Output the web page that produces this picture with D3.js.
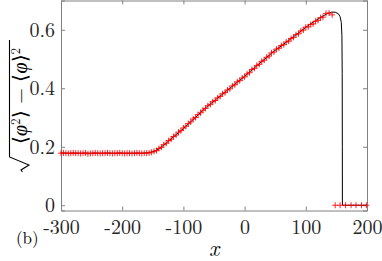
<!DOCTYPE html>
<html>
<head>
<meta charset="utf-8">
<script src="https://cdn.jsdelivr.net/npm/d3@7"></script>
<style>
  body { margin: 0; background: #fff; }
  svg { display: block; }
</style>
</head>
<body>
<svg id="chart" width="382" height="261"></svg>
<script>
(function (d3) {
    'use strict';

    // theory curve (black)
    var curveX = [-300, -170, -160, -152, -145, -140, -130, -116, -100, -62, -30, -7.5, 0, 47, 75, 101,
                  120, 134, 142, 148, 153, 156, 158, 159, 159.5, 159.7, 159.8, 200];
    var curveY = [0.178, 0.178, 0.179, 0.182, 0.187, 0.193, 0.209, 0.234, 0.262, 0.336, 0.390, 0.428, 0.441,
                  0.525, 0.568, 0.610, 0.637, 0.654, 0.660, 0.660, 0.655, 0.645, 0.625, 0.580, 0.450, 0.200, 0, 0];

    // simulation (red +)
    var simX = [-300, -296, -292, -288, -284, -280, -276, -272, -268, -264, -260, -256, -252, -248, -244,
                -240, -236, -232, -228, -224, -220, -216, -212, -208, -204, -200, -196, -192, -188, -184,
                -180, -176, -172, -168, -164, -160, -156, -152,
                -148, -144, -140, -136, -132, -128, -124, -120, -116, -112, -108, -104, -100, -96, -92, -88,
                -84, -80, -76, -72, -68, -64, -60, -56, -52, -48, -44, -40, -36, -32, -28, -24, -20, -16,
                -12, -8, -4, 0, 4, 8, 12, 16, 20, 24, 28, 32, 36, 40, 44, 48, 52, 56, 60, 64, 68, 72, 76,
                80, 84, 88, 92, 96, 100, 104, 108, 112, 116, 120, 124, 128, 133, 138, 143,
                148, 156, 165, 174, 182, 191, 199];
    var simY = [0.178, 0.179, 0.178, 0.177, 0.178, 0.179, 0.178, 0.178, 0.177, 0.178, 0.179, 0.176, 0.177, 0.178, 0.179,
                0.178, 0.177, 0.178, 0.178, 0.179, 0.178, 0.177, 0.178, 0.178, 0.179, 0.178, 0.177, 0.178, 0.178, 0.177,
                0.178, 0.179, 0.178, 0.177, 0.178, 0.178, 0.179, 0.181,
                0.184, 0.187, 0.194, 0.198, 0.207, 0.212, 0.221, 0.226, 0.235, 0.240, 0.250, 0.255, 0.264, 0.270, 0.279, 0.285,
                0.295, 0.300, 0.310, 0.316, 0.325, 0.331, 0.340, 0.345, 0.354, 0.358, 0.367, 0.372, 0.381, 0.385, 0.394, 0.398,
                0.408, 0.412, 0.422, 0.426, 0.435, 0.439, 0.449, 0.453, 0.464, 0.468, 0.478, 0.482, 0.492, 0.496, 0.506, 0.510,
                0.521, 0.524, 0.534, 0.537, 0.546, 0.549, 0.558, 0.561, 0.570, 0.574, 0.583, 0.586, 0.596, 0.599, 0.609, 0.610,
                0.618, 0.620, 0.629, 0.632, 0.641, 0.643, 0.656, 0.657, 0.651,
                0, 0, 0, 0, 0, 0, 0];

    var xTicks = [-300, -200, -100, 0, 100, 200];
    var yTicks = [0, 0.2, 0.4, 0.6];

    var serif = "'Latin Modern Roman', 'Liberation Serif', serif";
    var svg = d3.select('#chart');
    var left = 61, right = 367, top = 0.5, bottom = 210.5;

    var x = d3.scaleLinear().domain([-300, 200]).range([left, right]);
    var y = d3.scaleLinear().domain([-0.018, 0.7]).range([bottom, top]);

    // box + inward ticks on all four sides
    var axes = [
        svg.append('g').attr('transform', 'translate(0,' + bottom + ')')
            .call(d3.axisBottom(x).tickValues(xTicks).tickSize(-4).tickPadding(9).tickFormat(String)),
        svg.append('g').attr('transform', 'translate(0,' + top + ')')
            .call(d3.axisTop(x).tickValues(xTicks).tickSize(-4).tickFormat('')),
        svg.append('g').attr('transform', 'translate(' + left + ',0)')
            .call(d3.axisLeft(y).tickValues(yTicks).tickSize(-4).tickPadding(6).tickFormat(String)),
        svg.append('g').attr('transform', 'translate(' + right + ',0)')
            .call(d3.axisRight(y).tickValues(yTicks).tickSize(-4).tickFormat(''))
    ];
    axes.forEach(function (g) {
        g.selectAll('path, line').attr('stroke', '#808080');
        g.selectAll('text')
            .style('font-family', serif)
            .style('font-size', '20px')
            .attr('fill', '#262626');
    });

    var line = d3.line()
        .x(function (d) { return x(d[0]); })
        .y(function (d) { return y(d[1]); });

    svg.append('path')
        .datum(d3.zip(curveX, curveY))
        .attr('d', line)
        .attr('fill', 'none')
        .attr('stroke', '#000')
        .attr('stroke-width', 1);

    var s = 3;
    svg.append('g').selectAll('path')
        .data(d3.zip(simX, simY))
        .enter().append('path')
        .attr('d', function (d) {
            var px = x(d[0]), py = y(d[1]);
            return 'M' + (px - s) + ',' + py + 'H' + (px + s) + 'M' + px + ',' + (py - s) + 'V' + (py + s);
        })
        .attr('fill', 'none')
        .attr('stroke', '#ff0000')
        .attr('stroke-width', 1)
        .attr('stroke-opacity', 0.85);

    // labels
    svg.append('text')
        .attr('x', (left + right) / 2).attr('y', 256)
        .attr('text-anchor', 'middle')
        .style('font-family', serif)
        .style('font-style', 'italic')
        .style('font-size', '22px')
        .text('x');

    svg.append('text')
        .attr('x', 16).attr('y', 244)
        .style('font-family', serif)
        .style('font-size', '17px')
        .text('(b)');

    // y label: sqrt(<phi^2> - <phi>^2), rotated
    var yl = svg.append('g').attr('transform', 'translate(0,104) rotate(-90)');
    yl.append('path')
        .attr('d', 'M-68,22.5 L-66,21 L-61,29 L-53,9.5 L64,9.5')
        .attr('fill', 'none')
        .attr('stroke', '#000')
        .attr('stroke-width', 1.1);
    var t = yl.append('text')
        .attr('x', 8).attr('y', 27)
        .attr('text-anchor', 'middle')
        .style('font-family', serif)
        .style('font-size', '20px');
    t.append('tspan').text('\u27E8');
    t.append('tspan').style('font-style', 'italic').text('\u03C6');
    t.append('tspan').attr('dy', -7).style('font-size', '13px').text('2');
    t.append('tspan').attr('dy', 7).text('\u27E9 \u2212 \u27E8');
    t.append('tspan').style('font-style', 'italic').text('\u03C6');
    t.append('tspan').text('\u27E9');
    t.append('tspan').attr('dy', -7).style('font-size', '13px').text('2');
}(window.d3));
</script>
</body>
</html>
